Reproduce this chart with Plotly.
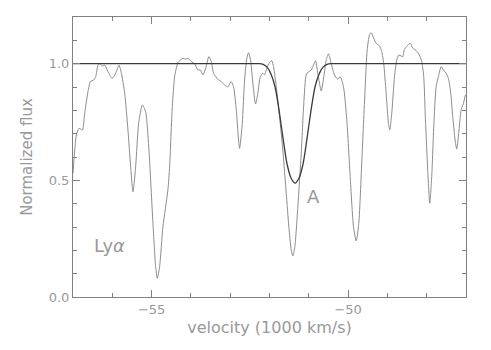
import plotly.graph_objects as go

# observed spectrum (velocity in 1000 km/s, normalized flux)
spec_v = [
    -57.0, -56.957, -56.914, -56.847, -56.761, -56.703, -56.619, -56.558, -56.474, -56.423,
    -56.364, -56.321, -56.252, -56.194, -56.110, -56.008, -55.914, -55.830, -55.769, -55.685,
    -55.602, -55.533, -55.474, -55.406, -55.330, -55.235, -55.152, -55.068, -54.966, -54.897,
    -54.854, -54.796, -54.712, -54.585, -54.541, -54.473, -54.414, -54.330, -54.203, -54.135,
    -54.076, -53.990, -53.906, -53.822, -53.761, -53.695, -53.626, -53.542, -53.481, -53.423,
    -53.313, -53.227, -53.143, -53.059, -52.973, -52.914, -52.845, -52.762, -52.693, -52.634,
    -52.576, -52.533, -52.482, -52.423, -52.355, -52.296, -52.235, -52.169, -52.126, -52.057,
    -51.981, -51.940, -51.897, -51.828, -51.744, -51.661, -51.574, -51.508, -51.447, -51.406,
    -51.355, -51.279, -51.193, -51.127, -51.066, -50.999, -50.938, -50.880, -50.829, -50.771,
    -50.684, -50.618, -50.557, -50.499, -50.430, -50.346, -50.262, -50.201, -50.117, -50.033,
    -49.947, -49.863, -49.794, -49.728, -49.642, -49.565, -49.515, -49.456, -49.413, -49.347,
    -49.286, -49.202, -49.143, -49.093, -49.032, -48.973, -48.940, -48.889, -48.820, -48.762,
    -48.711, -48.650, -48.609, -48.566, -48.498, -48.421, -48.355, -48.269, -48.185, -48.126,
    -48.075, -48.032, -47.974, -47.923, -47.872, -47.821, -47.760, -47.702, -47.633, -47.575,
    -47.506, -47.448, -47.397, -47.338, -47.277, -47.236, -47.186, -47.125, -47.066, -47.015,
]
spec_flux = [
    0.53, 0.63, 0.694, 0.723, 0.716, 0.787, 0.88, 0.923, 0.93, 0.944,
    0.994, 1.0, 0.99, 0.994, 0.966, 0.937, 0.959, 0.994, 0.959, 0.873,
    0.716, 0.558, 0.451, 0.558, 0.744, 0.823, 0.794, 0.63, 0.316, 0.13,
    0.08, 0.13, 0.301, 0.459, 0.56, 0.816, 0.944, 1.004, 1.023, 1.019,
    1.023, 1.009, 1.0, 0.973, 0.973, 0.952, 0.98, 1.03, 1.009, 0.959,
    0.933, 0.923, 0.909, 0.901, 0.923, 0.901, 0.801, 0.637, 0.744, 0.93,
    1.023, 1.047, 1.016, 0.916, 0.827, 0.873, 0.944, 0.959, 0.952, 0.987,
    1.009, 1.012, 0.987, 0.901, 0.773, 0.63, 0.444, 0.301, 0.201, 0.176,
    0.216, 0.387, 0.616, 0.83, 0.952, 0.966, 0.973, 0.994, 1.013, 0.959,
    0.883, 0.944, 1.016, 1.042, 1.0, 0.952, 0.933, 0.944, 0.901, 0.759,
    0.516, 0.301, 0.24, 0.316, 0.616, 0.901, 1.059, 1.123, 1.133, 1.109,
    1.087, 1.076, 1.051, 1.0, 0.873, 0.744, 0.716, 0.787, 0.944, 1.016,
    1.037, 1.033, 1.03, 1.062, 1.076, 1.087, 1.066, 1.056, 1.037, 1.009,
    0.944, 0.759, 0.544, 0.402, 0.516, 0.73, 0.901, 0.944, 0.987, 0.973,
    0.959, 0.937, 0.887, 0.773, 0.673, 0.634, 0.702, 0.801, 0.83, 0.866,
]

# fitted absorber "A"
model_v = [
    -57.0, -52.45, -52.265, -52.164, -52.062, -51.96, -51.858, -51.757, -51.655, -51.553,
    -51.452, -51.35, -51.248, -51.147, -51.045, -50.943, -50.842, -50.74, -50.638, -50.536,
    -50.435, -50.25, -47.0,
]
model_flux = [
    1.0, 1.0, 1.0, 0.997, 0.985, 0.955, 0.90, 0.80, 0.68, 0.57,
    0.51, 0.488, 0.51, 0.57, 0.68, 0.80, 0.90, 0.955, 0.985, 0.997,
    1.0, 1.0, 1.0,
]

x_ticks = [-55, -50]
x_ticktext = ["\u221255", "\u221250"]
y_ticks = [0.0, 0.5, 1.0]
y_ticktext = ["0.0", "0.5", "1.0"]

font_family = "DejaVu Sans, sans-serif"
text_gray = "#999999"
axis_gray = "#808080"

fig = go.Figure()
fig.add_trace(go.Scatter(
    x=spec_v, y=spec_flux, mode="lines",
    line=dict(color="#8c8c8c", width=1, shape="spline", smoothing=0.6),
    showlegend=False,
))
fig.add_trace(go.Scatter(
    x=model_v, y=model_flux, mode="lines",
    line=dict(color="#3a3a3a", width=1.3, shape="spline", smoothing=0.8),
    showlegend=False,
))

fig.add_annotation(x=-56.07, y=0.22, text="Ly<i>\u03b1</i>", showarrow=False,
                   font=dict(size=18, color=text_gray, family=font_family))
fig.add_annotation(x=-50.88, y=0.43, text="A", showarrow=False,
                   font=dict(size=18, color=text_gray, family=font_family))

fig.update_xaxes(
    range=[-57, -47], tickvals=x_ticks, ticktext=x_ticktext,
    ticks="inside", ticklen=7, tickcolor=axis_gray, mirror="ticks",
    showline=True, linecolor=axis_gray, linewidth=1, showgrid=False, zeroline=False,
    minor=dict(dtick=1, ticks="inside", ticklen=4, tickcolor=axis_gray, showgrid=False),
    tickfont=dict(size=13, color=text_gray, family=font_family),
    title=dict(text="velocity (1000 km/s)", standoff=6,
               font=dict(size=16, color=text_gray, family=font_family)),
)
fig.update_yaxes(
    range=[0, 1.2], tickvals=y_ticks, ticktext=y_ticktext,
    ticks="inside", ticklen=7, tickcolor=axis_gray, mirror="ticks",
    showline=True, linecolor=axis_gray, linewidth=1, showgrid=False, zeroline=False,
    minor=dict(dtick=0.1, ticks="inside", ticklen=4, tickcolor=axis_gray, showgrid=False),
    tickfont=dict(size=13, color=text_gray, family=font_family),
    title=dict(text="Normalized flux", standoff=12,
               font=dict(size=15, color=text_gray, family=font_family)),
)
# page body adds an 8px offset, so margins are trimmed on the top/left
fig.update_layout(
    width=491, height=350,
    margin=dict(l=65, r=33, t=9, b=61),
    paper_bgcolor="white", plot_bgcolor="white",
)

fig.write_html("out.html")
